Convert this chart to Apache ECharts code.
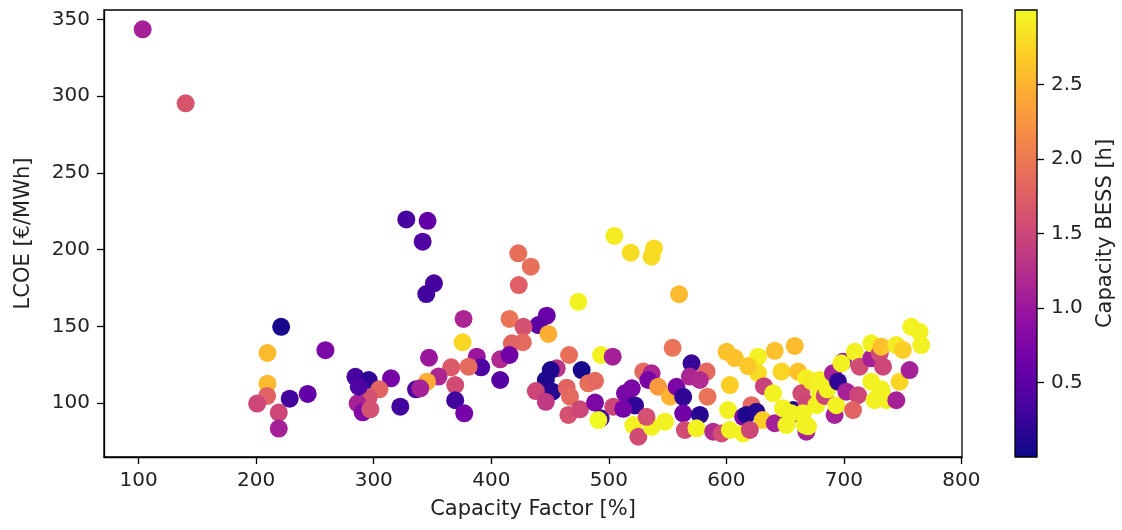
<!DOCTYPE html>
<html>
<head>
<meta charset="utf-8">
<script src="https://cdn.jsdelivr.net/npm/echarts@6/dist/echarts.min.js"></script>
<style>
html,body{margin:0;padding:0;background:#fff;}
#chart{width:1122px;height:530px;}
</style>
</head>
<body>
<div id="chart"></div>
<script>
// Capacity Factor [%]
const capacityFactor = [
103.4,140.0,221.2,209.6,258.9,209.6,209.3,200.8,219.2,219.2,
228.5,243.8,314.7,322.6,284.4,295.7,304.8,295.7,286.3,290.6,
297.1,287.2,327.7,345.8,341.6,351.2,344.7,376.4,375.6,347.0,
387.7,391.4,380.7,365.9,355.1,345.3,336.0,339.6,369.3,369.3,
377.0,407.6,407.6,423.0,433.6,423.4,474.1,415.5,447.2,440.1,
448.6,427.4,426.8,417.5,415.5,466.2,455.7,450.6,476.9,446.4,
452.0,437.9,446.4,464.2,467.0,482.6,488.3,465.6,475.5,488.3,
493.0,491.1,504.7,518.6,536.4,538.4,493.4,503.3,503.8,513.8,
519.5,522.3,512.3,520.8,525.1,536.4,532.1,529.3,536.4,533.6,
542.0,559.8,554.3,552.0,557.6,563.3,570.4,583.2,569.0,577.5,
584.0,563.3,577.5,547.8,564.7,574.6,588.8,595.9,614.3,603.0,
601.5,603.0,600.2,607.2,627.0,627.0,618.5,621.4,614.3,617.1,
625.6,631.0,620.0,632.0,641.2,658.2,646.9,661.0,668.1,639.8,
641.2,656.8,654.0,648.2,655.3,663.8,668.1,665.2,651.1,668.1,
666.7,669.5,672.4,679.4,676.6,679.4,683.7,686.0,690.7,699.2,
697.9,695.0,692.1,693.6,702.1,712.0,707.8,709.3,713.4,723.3,
723.3,730.5,731.8,733.3,723.3,731.8,733.3,726.1,730.5,736.1,
744.6,747.4,744.6,750.2,755.9,757.3,764.4,765.8
];
// LCOE [€/MWh]
const lcoe = [
343.6,295.4,149.7,132.6,134.4,112.6,104.6,99.6,93.8,83.3,
102.8,105.9,116.1,97.6,117.1,115.0,108.9,103.7,99.8,93.9,
95.9,110.6,219.7,218.8,205.2,178.0,171.0,154.8,139.6,129.5,
130.2,123.3,123.7,123.3,117.2,113.9,108.9,109.6,111.7,101.8,
93.3,128.5,115.0,197.6,188.9,176.9,166.0,154.8,156.9,150.8,
145.0,149.7,139.6,138.9,131.3,131.3,122.6,121.5,121.5,115.0,
107.4,107.8,100.8,110.0,104.1,112.8,114.5,92.2,95.9,100.3,
90.0,88.9,208.9,198.0,195.4,200.8,131.3,130.2,97.6,106.3,
109.6,98.4,96.2,85.6,78.0,84.5,91.0,120.5,119.4,115.0,
110.6,170.9,136.0,104.1,110.6,104.0,125.9,120.5,117.2,115.0,
104.1,93.3,92.2,87.8,82.4,83.5,81.3,80.2,80.2,82.4,
95.4,111.7,133.4,129.3,130.2,119.4,124.1,98.6,91.0,92.2,
94.3,88.9,82.4,111.0,134.0,137.2,120.5,120.5,116.1,106.3,
86.8,95.4,92.0,96.5,93.3,106.3,99.8,93.3,85.6,81.3,
85.6,84.8,114.3,115.0,98.6,106.3,104.6,108.9,119.4,126.9,
125.9,113.9,92.2,98.6,107.4,105.1,95.4,133.4,123.7,129.1,
138.9,132.4,136.7,123.7,113.9,108.9,104.6,101.8,105.1,101.8,
101.8,113.9,137.8,134.6,121.5,149.7,146.5,137.8
];
// Capacity BESS [h]
const bess = [
1.1,1.65,0.05,2.55,0.75,2.55,1.8,1.5,1.5,1.1,
0.3,0.55,0.7,0.3,0.35,0.2,1.8,1.6,1.1,0.8,
1.6,0.4,0.35,0.55,0.4,0.35,0.3,1.15,2.75,1.0,
1.0,0.4,1.85,1.7,1.15,2.45,0.4,1.1,1.55,0.3,
0.7,1.2,0.45,1.9,1.9,1.75,2.95,1.95,0.6,0.5,
2.45,1.6,1.85,1.8,0.65,1.9,1.3,0.1,0.05,0.1,
0.15,1.5,1.35,1.8,1.85,1.9,1.85,1.6,1.5,0.75,
0.3,3.0,2.9,2.8,2.8,2.8,2.95,1.1,1.5,0.7,
0.75,0.2,0.7,2.95,1.55,2.95,1.6,1.85,1.15,0.7,
2.3,2.55,1.95,2.5,0.75,0.2,0.25,1.85,1.15,1.2,
1.95,0.65,0.15,2.95,1.55,2.95,1.2,1.55,2.95,2.95,
2.95,2.7,2.6,2.6,2.95,2.8,2.65,1.85,0.8,0.1,
0.15,2.7,1.5,1.45,2.6,2.55,2.75,2.6,2.95,2.95,
1.1,0.1,0.3,2.95,2.95,1.55,1.5,2.95,2.95,1.1,
2.95,2.95,2.9,2.95,2.95,2.95,1.5,2.95,1.1,0.9,
2.95,0.2,1.1,2.95,1.1,1.5,1.8,2.95,1.55,1.1,
2.95,1.55,2.6,1.5,2.95,2.95,2.95,2.95,2.95,2.95,
1.1,2.75,2.9,2.7,1.1,2.95,2.95,2.95
];
const xTicks = [100,200,300,400,500,600,700,800];
const yTicks = [100,150,200,250,300,350];
const cTicks = [0.5,1.0,1.5,2.0,2.5];
const colorRange = [0, 3];

const plasma = ['#0d0887','#41049d','#6a00a8','#8f0da4','#b12a90','#cc4778','#e16462','#f2844b','#fca636','#fcce25','#f0f921'];

const points = capacityFactor.map((x, i) => [x, lcoe[i], bess[i]]);

const chart = echarts.init(document.getElementById('chart'), null, {renderer: 'canvas'});
const txt = '#222';
const font = 'DejaVu Sans';
const axisLine = {show: true, lineStyle: {color: '#000', width: 1.3}};
const axisTick = {show: true, inside: false, length: 7, lineStyle: {color: '#000', width: 1.3}};

chart.setOption({
  animation: false,
  backgroundColor: '#fff',
  textStyle: {fontFamily: font},
  grid: [
    {left: 104, right: 160, top: 10, bottom: 73, show: true, borderColor: '#000', borderWidth: 1.3, backgroundColor: 'transparent', containLabel: false, outerBoundsMode: 'none'},
    {left: 1015, width: 22, top: 10, bottom: 73, show: true, borderColor: '#000', borderWidth: 1.3, containLabel: false, outerBoundsMode: 'none', z: 5}
  ],
  visualMap: {
    type: 'continuous', show: false, min: colorRange[0], max: colorRange[1], dimension: 2, seriesIndex: 0,
    inRange: {color: plasma}
  },
  xAxis: [
    {
      gridIndex: 0, type: 'value', min: 70.5, max: 800.5,
      axisLine: axisLine, axisTick: Object.assign({customValues: xTicks}, axisTick),
      splitLine: {show: false},
      axisLabel: {customValues: xTicks, margin: 14, fontSize: 20, color: txt, fontFamily: font},
      name: 'Capacity Factor [%]', nameLocation: 'middle', nameGap: 42,
      nameTextStyle: {fontSize: 21, color: txt, fontFamily: font}
    },
    {
      gridIndex: 1, type: 'category', data: [''], show: false
    }
  ],
  yAxis: [
    {
      gridIndex: 0, type: 'value', min: 64.8, max: 356.2,
      axisLine: axisLine, axisTick: Object.assign({customValues: yTicks}, axisTick),
      splitLine: {show: false},
      axisLabel: {customValues: yTicks, margin: 14, fontSize: 20, color: txt, fontFamily: font},
      name: 'LCOE [€/MWh]', nameLocation: 'middle', nameGap: 70, nameRotate: 90,
      nameTextStyle: {fontSize: 21, color: txt, fontFamily: font}
    },
    {
      gridIndex: 1, type: 'value', position: 'right', min: colorRange[0], max: colorRange[1],
      axisLine: {show: false}, axisTick: Object.assign({customValues: cTicks}, axisTick),
      splitLine: {show: false},
      axisLabel: {customValues: cTicks, margin: 14, fontSize: 20, color: txt, fontFamily: font, formatter: v => v.toFixed(1)},
      name: 'Capacity BESS [h]', nameLocation: 'middle', nameGap: 58, nameRotate: 90,
      nameTextStyle: {fontSize: 21, color: txt, fontFamily: font}
    }
  ],
  series: [
    {
      type: 'scatter', xAxisIndex: 0, yAxisIndex: 0, symbol: 'circle', symbolSize: 18,
      data: points, itemStyle: {opacity: 1}, emphasis: {disabled: true}
    },
    {
      type: 'bar', xAxisIndex: 1, yAxisIndex: 1, barWidth: '100%',
      data: [colorRange[1]],
      itemStyle: {
        color: new echarts.graphic.LinearGradient(0, 1, 0, 0,
          plasma.map((c, i) => ({offset: i / (plasma.length - 1), color: c})))
      },
      emphasis: {disabled: true}
    }
  ]
});
</script>
</body>
</html>
